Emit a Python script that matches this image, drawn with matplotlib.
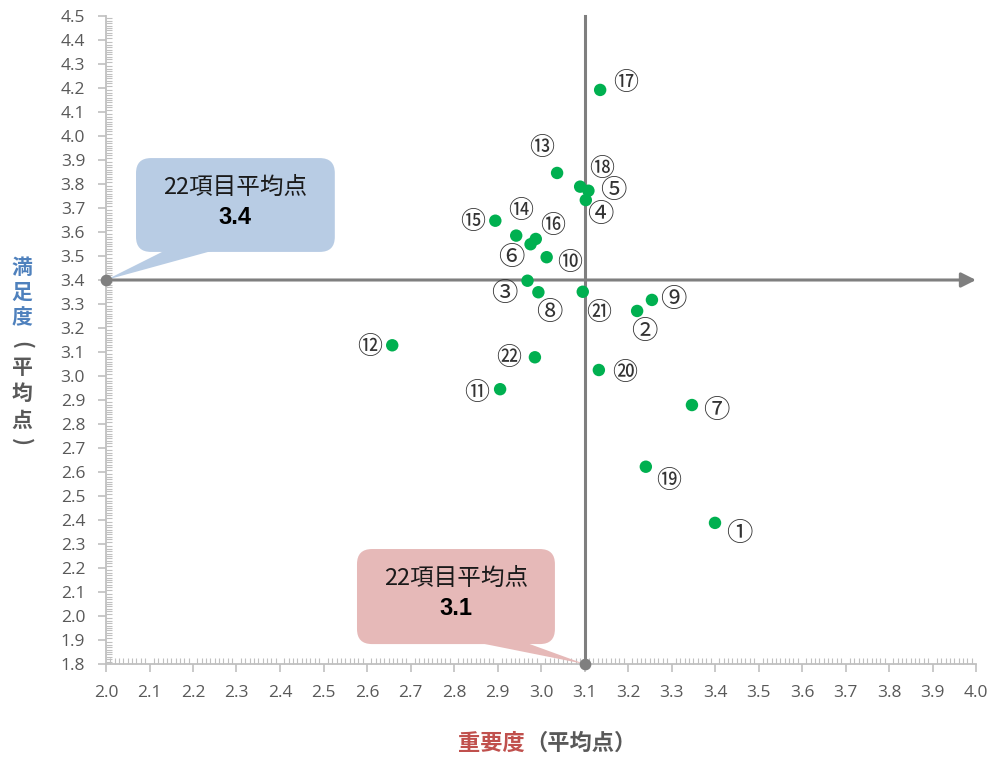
import numpy as np
import matplotlib
matplotlib.use("Agg")
import matplotlib.pyplot as plt
from matplotlib.patches import FancyBboxPatch, Polygon
from matplotlib.ticker import MultipleLocator, FormatStrFormatter

plt.rcParams['font.family'] = ['Noto Sans CJK JP', 'DejaVu Sans']

# item number, importance (x), satisfaction (y)
items = np.arange(1, 23)
importance = [3.400, 3.221, 2.969, 3.103, 3.109, 2.976, 3.347, 2.994, 3.255, 3.013, 2.906,
              2.658, 3.037, 2.943, 2.895, 2.988, 3.136, 3.090, 3.241, 3.133, 3.096, 2.986]
satisfaction = [2.388, 3.271, 3.397, 3.733, 3.772, 3.549, 2.879, 3.349, 3.317, 3.495, 2.945,
                3.128, 3.846, 3.585, 3.647, 3.571, 4.192, 3.789, 2.622, 3.025, 3.351, 3.078]
item_marks = list("①②③④⑤⑥⑦⑧⑨⑩⑪⑫⑬⑭⑮⑯⑰⑱⑲⑳㉑㉒")
avg_importance = 3.1
avg_satisfaction = 3.4
callout_title = "22項目平均点"

# label offsets from each dot, in pixels (right, down)
label_offsets = [(24, 11), (7, 21), (-23, 13), (14, 14), (25, 0), (-19, 13), (24, 5),
                 (11, 20), (21, 0), (23, 6), (-23, 4), (-23, 2), (-15, -25), (4, -25),
                 (-23, 1), (17, -13), (25, -7), (22, -18), (23, 14), (26, 3), (16, 21), (-26, 1)]

GREEN = "#00b050"
LINE_GRAY = "#7f7f7f"
AXIS_GRAY = "#c0c0c0"
TEXT_GRAY = "#595959"

fig = plt.figure(figsize=(9.94, 7.58), dpi=100)
ax = fig.add_axes([106 / 994, 94 / 758, 870 / 994, 648 / 758])
ax.set_xlim(2.0, 4.0)
ax.set_ylim(1.8, 4.5)

for s in ("top", "right"):
    ax.spines[s].set_visible(False)
for s in ("left", "bottom"):
    ax.spines[s].set_color(AXIS_GRAY)
    ax.spines[s].set_linewidth(1.3)

ax.xaxis.set_major_locator(MultipleLocator(0.1))
ax.xaxis.set_minor_locator(MultipleLocator(0.01))
ax.yaxis.set_major_locator(MultipleLocator(0.1))
ax.yaxis.set_minor_locator(MultipleLocator(0.01))
ax.xaxis.set_major_formatter(FormatStrFormatter("%.1f"))
ax.yaxis.set_major_formatter(FormatStrFormatter("%.1f"))
ax.tick_params(which="major", direction="out", length=6, width=1.2, color=AXIS_GRAY,
               labelcolor=TEXT_GRAY, labelsize=12.5, pad=9)
ax.tick_params(which="minor", direction="in", length=4, width=0.8, color=AXIS_GRAY)
for lab in ax.get_xticklabels() + ax.get_yticklabels():
    lab.set_fontfamily("Open Sans")

# average cross lines
ax.annotate("", xy=(4.0, avg_satisfaction), xytext=(2.0, avg_satisfaction),
            arrowprops=dict(arrowstyle="-|>", mutation_scale=22, color=LINE_GRAY, lw=2.2,
                            shrinkA=0, shrinkB=0),
            annotation_clip=False, zorder=3)
ax.plot([avg_importance, avg_importance], [1.8, 4.5], color=LINE_GRAY, lw=2.2,
        clip_on=False, zorder=3)
ax.scatter([2.0, avg_importance], [avg_satisfaction, 1.8], s=55, color=LINE_GRAY,
           clip_on=False, zorder=4)

# callouts (box in data coords, rounded with aspect correction)
px_x, px_y = 1 / 435, 1 / 240
aspect = px_y / px_x


def callout(x0, x1, y0, y1, base, tip, color, value):
    box = FancyBboxPatch((x0, y0), x1 - x0, y1 - y0,
                         boxstyle=f"round,pad=0,rounding_size={15 * px_x}",
                         mutation_aspect=aspect, fc=color, ec="none", zorder=2)
    ax.add_patch(box)
    tail = Polygon([(base[0], y0 + 0.01), (base[1], y0 + 0.01), tip], closed=True,
                   fc=color, ec="none", zorder=2, clip_on=False)
    ax.add_patch(tail)
    cx = (x0 + x1) / 2
    h = y1 - y0
    ax.text(cx, y1 - h * 0.31, callout_title, ha="center", va="center", fontsize=17,
            color="#1a1a1a", zorder=5)
    ax.text(cx, y1 - h * 0.63, f"{value:.1f}", ha="center", va="center", fontsize=17,
            fontweight="bold", color="#000000", fontfamily="Liberation Sans", zorder=5)


callout(2.069, 2.526, 3.517, 3.908, (2.140, 2.255), (2.0, avg_satisfaction), "#b8cce4",
        avg_satisfaction)
callout(2.577, 3.032, 1.883, 2.279, (2.844, 2.959), (avg_importance, 1.8), "#e6b9b8",
        avg_importance)

# data points
ax.scatter(importance, satisfaction, s=80, color=GREEN, edgecolors="none", zorder=6)
for n, x, y, mark, (dx, dy) in zip(items, importance, satisfaction, item_marks, label_offsets):
    ax.annotate(mark, (x, y), xytext=(dx * 0.72, -dy * 0.72), textcoords="offset points",
                ha="center", va="center", fontsize=19 if n < 10 else 18, color="#333333",
                zorder=7)

# axis titles
fig.text(525 / 994, 1 - 743 / 758, "重要度", ha="right", va="center", fontsize=16,
         fontweight="bold", color="#c0504d")
fig.text(525 / 994, 1 - 743 / 758, "（平均点）", ha="left", va="center", fontsize=16,
         fontweight="bold", color=TEXT_GRAY)

ylab_chars = ["満", "足", "度", "(", "平", "均", "点", ")"]
ylab_colors = ["#4f81bd"] * 3 + [TEXT_GRAY] * 5
ylab_pos = [267, 292, 318, 345, 368, 393, 420, 442]
for ch, c, py in zip(ylab_chars, ylab_colors, ylab_pos):
    fig.text(22 / 994, 1 - py / 758, ch, ha="center", va="center", fontsize=15,
             fontweight="bold", color=c, rotation=-90 if ch in "()" else 0)

fig.savefig("out.png", dpi=100)
